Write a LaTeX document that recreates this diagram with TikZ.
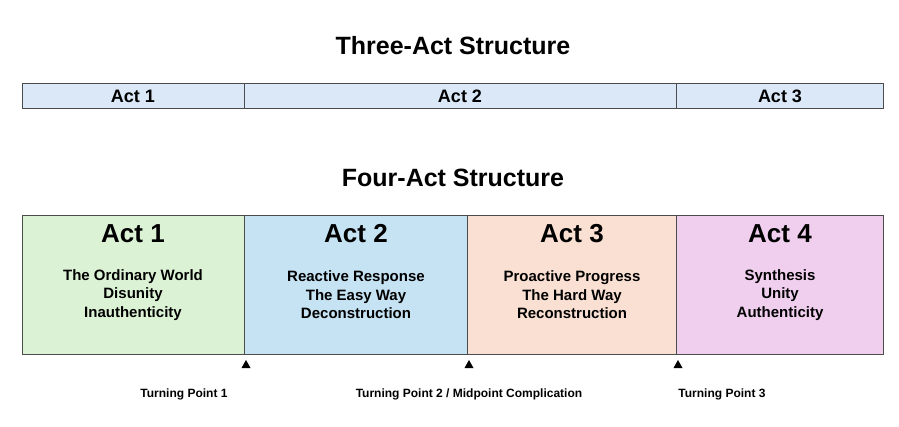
\documentclass[tikz,border=0pt]{standalone}
\usepackage{fontspec}
\setmainfont{Liberation Sans}
\begin{document}
\begin{tikzpicture}[x=1pt,y=-1pt,
  ttl/.style={font=\fontsize{25}{28}\selectfont\bfseries},
  barlab/.style={font=\fontsize{18}{20}\selectfont\bfseries},
  acttl/.style={font=\fontsize{26}{28}\selectfont\bfseries},
  body/.style={font=\fontsize{15}{18.5}\selectfont\bfseries,align=center},
  tp/.style={font=\fontsize{12}{14}\selectfont\bfseries},
  box/.style={draw=black!70,line width=0.8pt},
  tri/.style={fill=black,draw=none,regular polygon,regular polygon sides=3,inner sep=0pt,minimum size=9pt}]
\useasboundingbox (0,0) rectangle (899,427);
\definecolor{barblue}{HTML}{DAE8F7}
\definecolor{cgreen}{HTML}{DCF2D5}
\definecolor{cblue}{HTML}{C5E3F3}
\definecolor{cpeach}{HTML}{FAE0D3}
\definecolor{cpink}{HTML}{F0CFEE}
\node[ttl] (t3) at (453,46) {Three-Act Structure};
\draw[box,fill=barblue] (22,83) rectangle (244,108);
\draw[box,fill=barblue] (244,83) rectangle (676,108);
\draw[box,fill=barblue] (676,83) rectangle (883,108);
\node[barlab] (b1) at (133,96) {Act 1};
\node[barlab] (b2) at (460,96) {Act 2};
\node[barlab] (b3) at (780,96) {Act 3};
\node[ttl] (t4) at (453,178) {Four-Act Structure};
\draw[box,fill=cgreen] (22,215) rectangle (244,354);
\draw[box,fill=cblue] (244,215) rectangle (467,354);
\draw[box,fill=cpeach] (467,215) rectangle (676,354);
\draw[box,fill=cpink] (676,215) rectangle (883,354);
\node[acttl] (a1) at (133,234) {Act 1};
\node[acttl] (a2) at (356,234) {Act 2};
\node[acttl] (a3) at (572,234) {Act 3};
\node[acttl] (a4) at (780,234) {Act 4};
\node[body] (d1) at (133,295) {The Ordinary World\\Disunity\\Inauthenticity};
\node[body] (d2) at (356,295) {Reactive Response\\The Easy Way\\Deconstruction};
\node[body] (d3) at (572,295) {Proactive Progress\\The Hard Way\\Reconstruction};
\node[body] (d4) at (780,295) {Synthesis\\Unity\\Authenticity};
\fill (241.5,368) -- (250.5,368) -- (246,360) -- cycle;
\fill (464.5,368) -- (473.5,368) -- (469,360) -- cycle;
\fill (673.5,368) -- (682.5,368) -- (678,360) -- cycle;
\node[tp] (p1) at (184,394) {Turning Point 1};
\node[tp] (p2) at (469,394) {Turning Point 2 / Midpoint Complication};
\node[tp] (p3) at (722,394) {Turning Point 3};
\end{tikzpicture}
\end{document}
